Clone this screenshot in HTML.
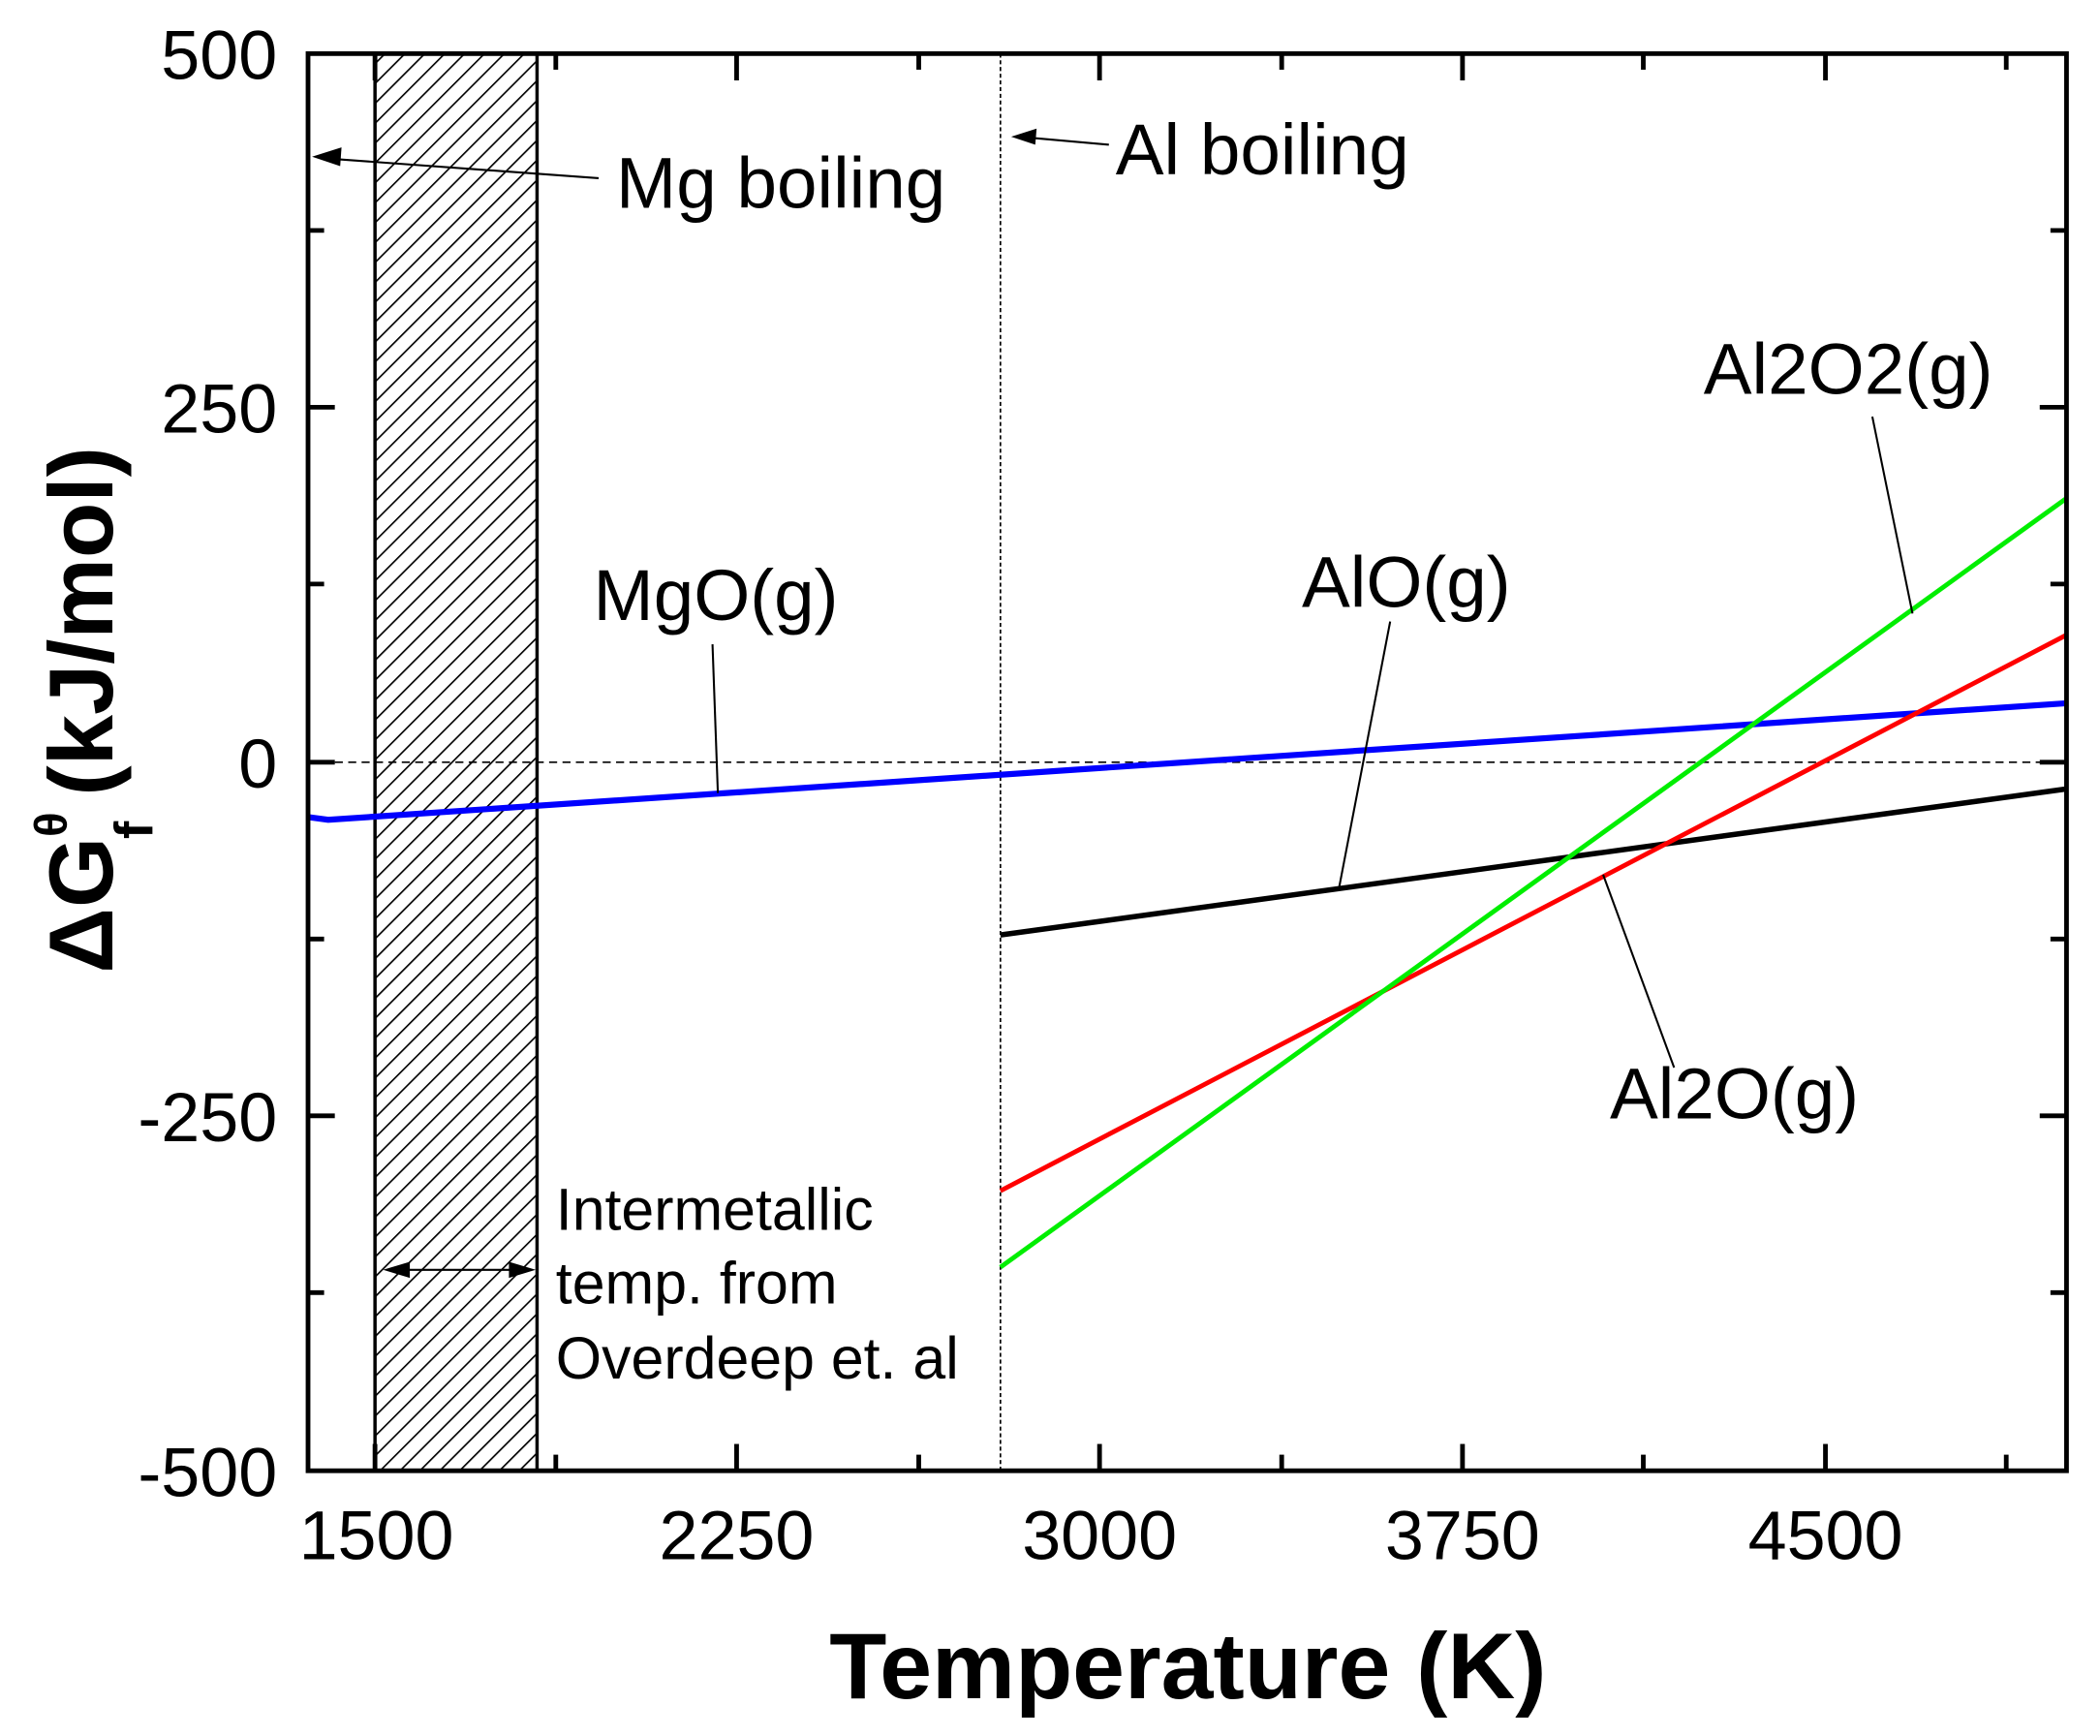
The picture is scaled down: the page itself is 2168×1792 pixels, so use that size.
<!DOCTYPE html>
<html><head><meta charset="utf-8"><style>html,body{margin:0;padding:0;background:#fff}svg{display:block}</style></head>
<body>
<svg xmlns="http://www.w3.org/2000/svg" width="2168" height="1792" viewBox="0 0 1568 1296" font-family="Liberation Sans, Arial, sans-serif">
<defs>
<pattern id="h" patternUnits="userSpaceOnUse" width="10.5" height="10.5" patternTransform="rotate(45)">
<line x1="0" y1="0" x2="0" y2="10.5" stroke="#000" stroke-width="2.4"/>
</pattern>
</defs>
<rect width="1568" height="1296" fill="#fff"/>
<rect x="280" y="40" width="121" height="1058" fill="url(#h)" stroke="#000" stroke-width="2.5"/>
<line x1="230" y1="569" x2="1543" y2="569" stroke="#000" stroke-width="1.2" stroke-dasharray="6,4"/>
<line x1="747" y1="40" x2="747" y2="1098" stroke="#000" stroke-width="1.2" stroke-dasharray="3,2"/>
<polyline points="230,610 245,612 1543,525" fill="none" stroke="#0000ff" stroke-width="4.5"/>
<line x1="747" y1="698" x2="1543" y2="589" stroke="#000" stroke-width="4"/>
<line x1="747" y1="889" x2="1543" y2="474" stroke="#ff0000" stroke-width="3.5"/>
<line x1="747" y1="946" x2="1543" y2="372" stroke="#00ee00" stroke-width="3.5"/>
<rect x="230" y="40" width="1313" height="1058" fill="none" stroke="#000" stroke-width="3.5"/>
<g stroke="#000" stroke-width="3.5">
<line x1="280" y1="1098" x2="280" y2="1078"/><line x1="550" y1="1098" x2="550" y2="1078"/><line x1="821" y1="1098" x2="821" y2="1078"/><line x1="1092" y1="1098" x2="1092" y2="1078"/><line x1="1363" y1="1098" x2="1363" y2="1078"/>
<line x1="280" y1="40" x2="280" y2="60"/><line x1="550" y1="40" x2="550" y2="60"/><line x1="821" y1="40" x2="821" y2="60"/><line x1="1092" y1="40" x2="1092" y2="60"/><line x1="1363" y1="40" x2="1363" y2="60"/>
<line x1="415" y1="1098" x2="415" y2="1086"/><line x1="686" y1="1098" x2="686" y2="1086"/><line x1="957" y1="1098" x2="957" y2="1086"/><line x1="1227" y1="1098" x2="1227" y2="1086"/><line x1="1498" y1="1098" x2="1498" y2="1086"/>
<line x1="415" y1="40" x2="415" y2="52"/><line x1="686" y1="40" x2="686" y2="52"/><line x1="957" y1="40" x2="957" y2="52"/><line x1="1227" y1="40" x2="1227" y2="52"/><line x1="1498" y1="40" x2="1498" y2="52"/>
<line x1="230" y1="304" x2="250" y2="304"/><line x1="230" y1="569" x2="250" y2="569"/><line x1="230" y1="833" x2="250" y2="833"/>
<line x1="1543" y1="304" x2="1523" y2="304"/><line x1="1543" y1="569" x2="1523" y2="569"/><line x1="1543" y1="833" x2="1523" y2="833"/>
<line x1="230" y1="172" x2="242" y2="172"/><line x1="230" y1="436" x2="242" y2="436"/><line x1="230" y1="701" x2="242" y2="701"/><line x1="230" y1="965" x2="242" y2="965"/>
<line x1="1543" y1="172" x2="1531" y2="172"/><line x1="1543" y1="436" x2="1531" y2="436"/><line x1="1543" y1="701" x2="1531" y2="701"/><line x1="1543" y1="965" x2="1531" y2="965"/>
</g>
<g font-size="52" fill="#000" text-anchor="end">
<text x="207" y="59">500</text><text x="207" y="323">250</text><text x="207" y="588">0</text><text x="207" y="852">-250</text><text x="207" y="1117">-500</text>
</g>
<g font-size="52" fill="#000" text-anchor="middle">
<text x="281" y="1164">1500</text><text x="550" y="1164">2250</text><text x="821" y="1164">3000</text><text x="1092" y="1164">3750</text><text x="1363" y="1164">4500</text>
</g>
<text x="887" y="1268" font-size="70" font-weight="bold" text-anchor="middle">Temperature (K)</text>
<g transform="translate(84,530) rotate(-90)">
<text x="0" y="0" font-size="68" font-weight="bold" text-anchor="middle">ΔG<tspan font-size="34" dy="-34">θ</tspan><tspan font-size="40" dx="-20" dy="64">f</tspan><tspan dy="-30"> (kJ/mol)</tspan></text>
</g>
<g font-size="54" fill="#000">
<text x="460" y="155">Mg boiling</text>
<text x="833" y="130">Al boiling</text>
<text x="443" y="463">MgO(g)</text>
<text x="972" y="453">AlO(g)</text>
<text x="1272" y="294">Al2O2(g)</text>
<text x="1202" y="835">Al2O(g)</text>
</g>
<g font-size="44" fill="#000">
<text x="415" y="918">Intermetallic</text>
<text x="415" y="973">temp. from</text>
<text x="415" y="1029">Overdeep et. al</text>
</g>
<g stroke="#000" stroke-width="1.5" fill="none">
<line x1="447" y1="133" x2="240" y2="118"/>
<line x1="828" y1="108" x2="760" y2="102"/>
<line x1="532" y1="481" x2="536" y2="592"/>
<line x1="1038" y1="464" x2="1000" y2="662"/>
<line x1="1398" y1="311" x2="1428" y2="458"/>
<line x1="1250" y1="797" x2="1197" y2="653"/>
<line x1="290" y1="948" x2="396" y2="948"/>
</g>
<path d="M755,102 L774,96 L773,108 Z" fill="#000"/>
<path d="M233,117 L255,110 L254,124 Z" fill="#000"/>
<path d="M286,948 L306,942 L306,954 Z" fill="#000"/>
<path d="M400,948 L380,942 L380,954 Z" fill="#000"/>
</svg>
</body></html>
